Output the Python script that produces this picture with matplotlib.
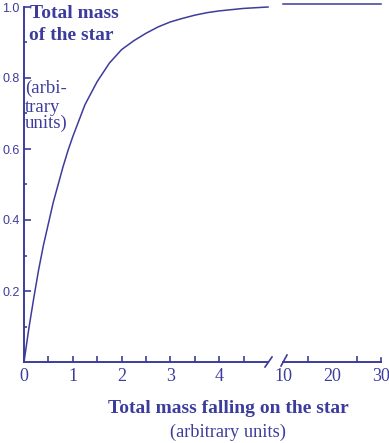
import numpy as np
import matplotlib.pyplot as plt

# curve
mass_in = [0, 0.1, 0.2, 0.3, 0.4, 0.5, 0.6, 0.7, 0.8, 0.9, 1.0, 1.25, 1.5, 1.75,
           2.0, 2.25, 2.5, 2.75, 3.0, 3.25, 3.5, 3.75, 4.0, 4.5, 5.0]
mass_star = [0, 0.095, 0.18, 0.26, 0.33, 0.39, 0.45, 0.50, 0.55, 0.595, 0.635, 0.725, 0.79, 0.842,
             0.88, 0.905, 0.926, 0.944, 0.958, 0.968, 0.977, 0.984, 0.989, 0.996, 1.0]
# asymptotic part after the break
far_in = [10, 30]
far_star = [1.008, 1.008]

x_ticks_left = [0, 1, 2, 3, 4]
x_ticks_right = [10, 20, 30]
y_ticks = [0.2, 0.4, 0.6, 0.8, 1.0]

col = '#3c3c9c'
W, H = 389, 443
plt.rcParams['font.family'] = ['Liberation Serif', 'DejaVu Serif']

fig = plt.figure(figsize=(W / 100, H / 100), dpi=100)

def fx(px):
    return px / W

def fy(py):
    return 1 - py / H

ax = fig.add_axes([fx(24), fy(362), fx(268) - fx(24), fy(7) - fy(362)])
ax2 = fig.add_axes([fx(283), fy(362), fx(381) - fx(283), fy(7) - fy(362)])

ax.plot(mass_in, mass_star, color=col, lw=1.1, clip_on=False)
ax2.plot(far_in, far_star, color=col, lw=1.1, clip_on=False)

ax.set_xlim(0, 5)
ax.set_ylim(0, 1)
ax2.set_xlim(10, 30)
ax2.set_ylim(0, 1)

for a in (ax, ax2):
    a.patch.set_alpha(0)
    for s in ('top', 'right'):
        a.spines[s].set_visible(False)
    a.spines['bottom'].set_color(col)
    a.spines['left'].set_color(col)
    a.spines['bottom'].set_linewidth(1.4)
    a.spines['left'].set_linewidth(1.4)
    a.tick_params(axis='both', which='both', direction='in', colors=col,
                  width=1.2, labelcolor=col)

ax2.spines['left'].set_visible(False)
ax2.set_yticks([])

ax.set_xticks(x_ticks_left)
ax.set_xticks(np.arange(0.5, 5, 1.0), minor=True)
ax.tick_params(axis='x', which='both', length=4, labelsize=13, pad=4)
ax.set_yticks(y_ticks)
ax.set_yticklabels([f'{v:.1f}' for v in y_ticks], family='Liberation Sans', fontsize=9)
ax.set_yticks(np.arange(0.1, 1.0, 0.2), minor=True)
ax.tick_params(axis='y', which='major', length=5, pad=3)
ax.tick_params(axis='y', which='minor', length=2.5)

ax2.set_xticks(x_ticks_right)
ax2.set_xticks([15, 25], minor=True)
ax2.tick_params(axis='x', which='both', length=4, labelsize=13, pad=4)
ax2.tick_params(axis='x', which='major', length=0)
ax2.tick_params(axis='x', which='minor', length=4)
ax2.plot([30, 30], [0, 0.012], color=col, lw=1.2, clip_on=False)

# axis break marks
fig.add_artist(plt.Line2D([fx(265), fx(272)], [fy(367), fy(357)], color=col, lw=1.2))
fig.add_artist(plt.Line2D([fx(281), fx(287)], [fy(366), fy(355)], color=col, lw=1.2))

# y label
fig.text(fx(30), fy(18), 'Total mass', color=col, fontsize=14, weight='bold', va='baseline')
fig.text(fx(29), fy(40), 'of the star', color=col, fontsize=14, weight='bold', va='baseline')
fig.text(fx(25), fy(93), '(arbi-', color=col, fontsize=13.5, va='baseline')
fig.text(fx(25), fy(112), 'trary', color=col, fontsize=13.5, va='baseline')
fig.text(fx(25), fy(128), 'units)', color=col, fontsize=13.5, va='baseline')

# x label
fig.text(fx(228), fy(413), 'Total mass falling on the star', color=col, fontsize=14,
         weight='bold', ha='center', va='baseline')
fig.text(fx(228), fy(437), '(arbitrary units)', color=col, fontsize=13.2,
         ha='center', va='baseline')

fig.savefig('out.png', dpi=100)
